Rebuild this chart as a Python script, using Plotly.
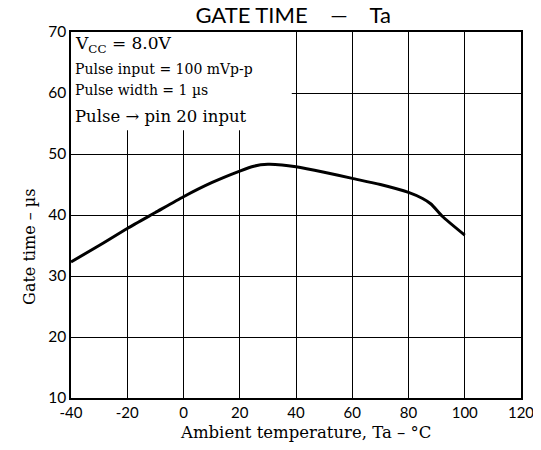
import plotly.graph_objects as go

temp_c = [-40, -30, -20, -10, 0, 10, 20, 25, 30, 35, 40, 50, 60, 70, 80, 85, 88, 92, 100]
gate_time_us = [32.3, 35.0, 37.8, 40.4, 43.0, 45.3, 47.2, 48.0, 48.3, 48.2, 47.9, 47.0, 46.0, 45.0, 43.7, 42.7, 41.8, 39.8, 36.7]

x_ticks = [-40, -20, 0, 20, 40, 60, 80, 100, 120]
y_ticks = [10, 20, 30, 40, 50, 60, 70]

serif = "DejaVu Serif, Liberation Serif, serif"
sans = "Lato, Open Sans, sans-serif"

fig = go.Figure()
fig.add_trace(go.Scatter(x=temp_c, y=gate_time_us, mode="lines",
                         line=dict(color="black", width=3, shape="spline", smoothing=0.6),
                         hoverinfo="skip", showlegend=False))

# white box that hides the grid behind the condition notes
fig.add_shape(type="rect", xref="x", yref="y", x0=-40, x1=38.5, y0=53.9, y1=70,
              fillcolor="white", line=dict(width=0), layer="between")

notes = [
    ("V<sub>CC</sub> = 8.0V", 67.9, 17),
    ("Pulse input = 100 mVp-p", 63.9, 14),
    ("Pulse width = 1 µs", 60.5, 14),
    ("Pulse → pin 20 input", 56.2, 16.5),
]
for txt, yv, fs in notes:
    fig.add_annotation(x=-39.4, y=yv, xref="x", yref="y", text=txt, showarrow=False,
                       xanchor="left", yanchor="middle",
                       font=dict(family=serif, size=fs, color="black"))

# axis titles
fig.add_annotation(x=-0.091, y=0.413, xref="paper", yref="paper", text="Gate time – µs",
                   textangle=-90, showarrow=False, xanchor="center", yanchor="middle",
                   font=dict(family=serif, size=16, color="black"))
fig.add_annotation(x=0.52, y=-0.093, xref="paper", yref="paper",
                   text="Ambient temperature, Ta – °C", showarrow=False,
                   xanchor="center", yanchor="middle",
                   font=dict(family=serif, size=16.5, color="black"))

fig.update_layout(
    width=533, height=434,
    margin=dict(l=63, r=20, t=24, b=44),
    paper_bgcolor="white", plot_bgcolor="white",
    title=dict(text="GATE TIME    —    Ta", x=0.535, xanchor="center",
               y=1, yref="container", yanchor="top",
               font=dict(family=sans, size=22, color="black")),
    xaxis=dict(range=[-40, 120], tickvals=x_ticks, ticktext=[str(v) for v in x_ticks],
               showgrid=True, gridcolor="black", gridwidth=1,
               showline=True, linecolor="black", linewidth=1.5, mirror=True,
               ticks="", zeroline=False, automargin=False,
               tickfont=dict(family=sans, size=15, color="black")),
    yaxis=dict(range=[10, 70], tickvals=y_ticks, ticktext=[str(v) for v in y_ticks],
               showgrid=True, gridcolor="black", gridwidth=1,
               showline=True, linecolor="black", linewidth=1.5, mirror=True,
               ticks="", zeroline=False, automargin=False,
               tickfont=dict(family=sans, size=15.5, color="black")),
)

fig.write_html("out.html")
